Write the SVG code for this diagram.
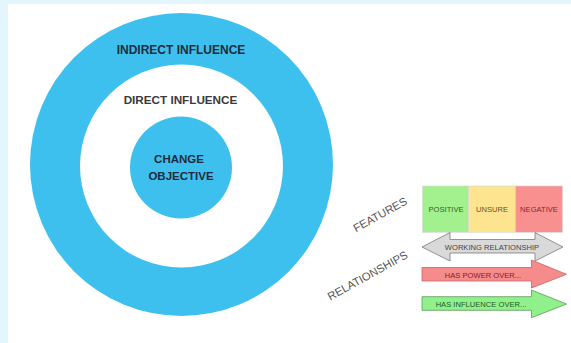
<svg xmlns="http://www.w3.org/2000/svg" width="571" height="343" viewBox="0 0 571 343">
  <style>
    .t { font-family: "Liberation Sans", Arial, sans-serif; }
    .ring { fill: #3ec0ef; }
    .lbl { font-weight: bold; text-anchor: middle; }
    .small { font-size: 7.6px; text-anchor: middle; }
    .rot { font-size: 11.3px; fill: #555; text-anchor: middle; }
    .box { stroke: #d8d8d8; stroke-width: 0.6; }
  </style>
  <rect x="0" y="0" width="571" height="343" fill="#ffffff"/>
  <rect x="0" y="0" width="571" height="4" fill="#e3f5fd"/>
  <rect x="0" y="0" width="8" height="343" fill="#e3f5fd"/>

  <g id="indirect-influence">
    <circle class="ring" cx="181.5" cy="164.5" r="151.5"/>
    <text class="t lbl" x="181" y="53.5" font-size="12" fill="#1e2b3a">INDIRECT INFLUENCE</text>
  </g>
  <g id="direct-influence">
    <circle cx="181.5" cy="166" r="101.5" fill="#ffffff"/>
    <text class="t lbl" x="180.5" y="104" font-size="11.7" fill="#3a3a3a">DIRECT INFLUENCE</text>
  </g>
  <g id="change-objective">
    <circle class="ring" cx="181" cy="167.5" r="51"/>
    <text class="t lbl" x="179" y="163" font-size="11.5" fill="#1e2b3a">CHANGE</text>
    <text class="t lbl" x="181" y="179.5" font-size="11.5" fill="#1e2b3a">OBJECTIVE</text>
  </g>

  <g id="features-label">
    <text class="t rot" x="382" y="218" transform="rotate(-29 382 218)">FEATURES</text>
  </g>
  <g id="relationships-label">
    <text class="t rot" x="369.5" y="279" transform="rotate(-29 369.5 279)">RELATIONSHIPS</text>
  </g>

  <g id="feature-positive">
    <rect class="box" x="422.5" y="186" width="46" height="46.3" fill="#a3f08f"/>
    <text class="t small" x="446" y="212" fill="#2f6424">POSITIVE</text>
  </g>
  <g id="feature-unsure">
    <rect class="box" x="468.5" y="186" width="47" height="46.3" fill="#fde48f"/>
    <text class="t small" x="492" y="212" fill="#6b5520">UNSURE</text>
  </g>
  <g id="feature-negative">
    <rect class="box" x="515.5" y="186" width="47" height="46.3" fill="#f89090"/>
    <text class="t small" x="539" y="212" fill="#8a2626">NEGATIVE</text>
  </g>

  <g id="connectors">
    <g id="working-relationship">
      <path d="M422,247 L450,232.5 L450,239.5 L535,239.5 L535,232.5 L563,247 L535,261 L535,253 L450,253 L450,261 Z" fill="#d9d9d9" stroke="#7a7a7a" stroke-width="0.8"/>
      <text class="t small" x="492" y="249.5" fill="#444">WORKING RELATIONSHIP</text>
    </g>
    <g id="has-power-over">
      <path d="M422,267.5 L531.5,267.5 L531.5,260 L566.5,274.3 L531.5,288 L531.5,281 L422,281 Z" fill="#f58b8b" stroke="#c86464" stroke-width="0.8"/>
      <text class="t small" x="483" y="277.5" fill="#8a2020">HAS POWER OVER...</text>
    </g>
    <g id="has-influence-over">
      <path d="M422,296.7 L531.5,296.7 L531.5,290 L566.5,304 L531.5,317.7 L531.5,310.3 L422,310.3 Z" fill="#90f08c" stroke="#5a9a5a" stroke-width="0.8"/>
      <text class="t small" x="481" y="306.8" fill="#1f5a1f">HAS INFLUENCE OVER...</text>
    </g>
  </g>
</svg>
